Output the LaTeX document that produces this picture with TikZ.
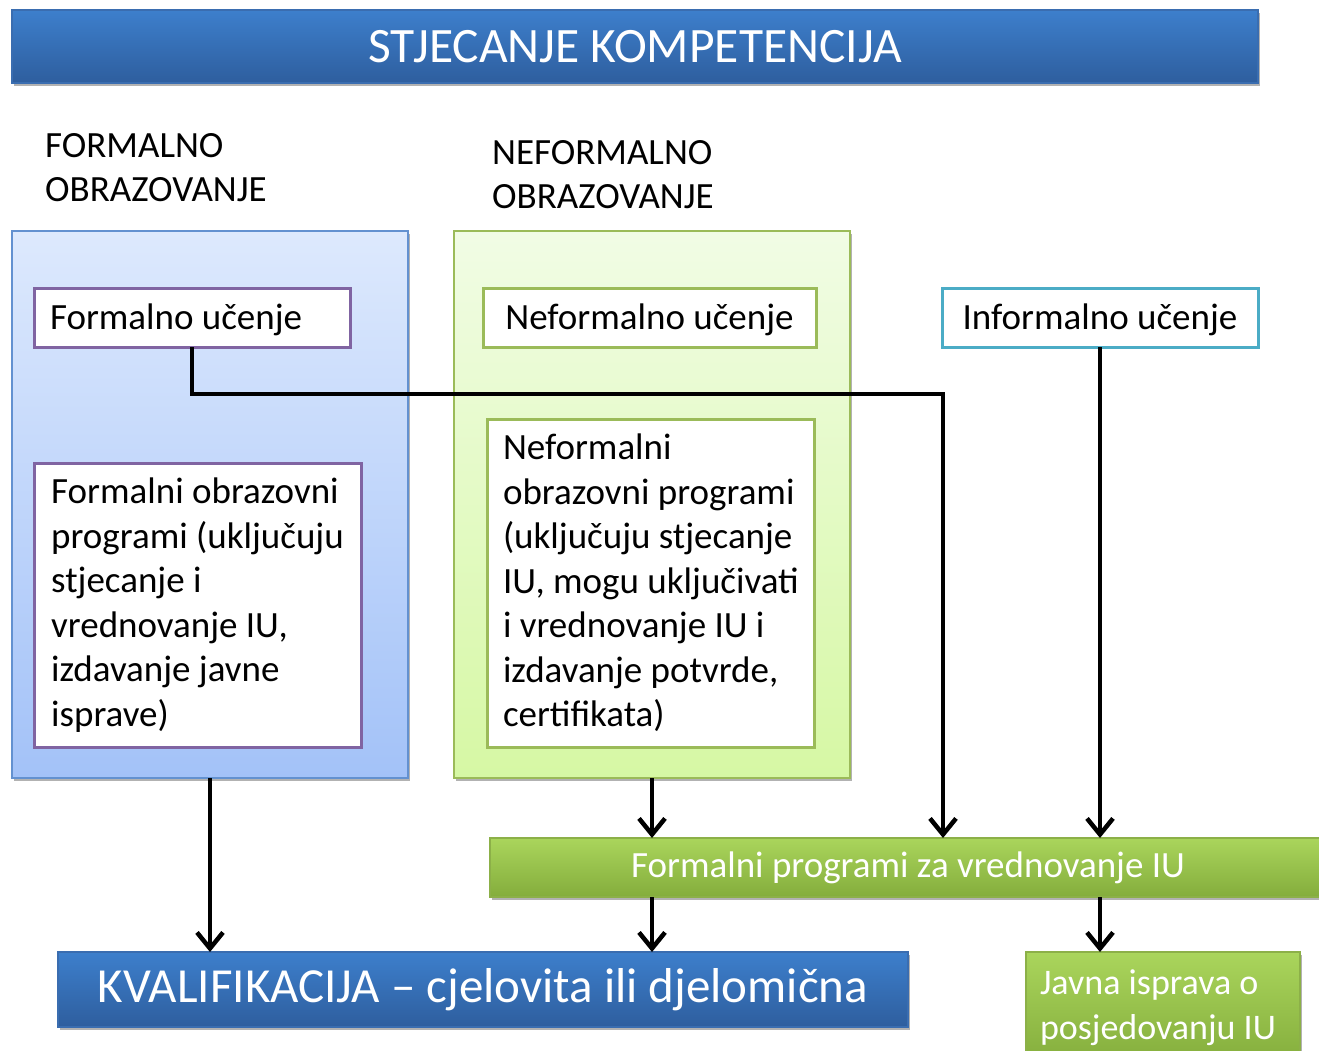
\documentclass[tikz,border=0pt]{standalone}
\usepackage{fontspec}
\setmainfont{Carlito}
\usetikzlibrary{arrows.meta,shadows,calc}
\definecolor{barTop}{HTML}{3D7FCC}
\definecolor{barBot}{HTML}{2E5E9E}
\definecolor{barLine}{HTML}{3A6DB0}
\definecolor{bpTop}{HTML}{DDE9FD}
\definecolor{bpBot}{HTML}{A3C2F8}
\definecolor{bpLine}{HTML}{6391D0}
\definecolor{gpTop}{HTML}{F1FCE5}
\definecolor{gpBot}{HTML}{D6F8A4}
\definecolor{gpLine}{HTML}{9BBB59}
\definecolor{gbTop}{HTML}{AAD55C}
\definecolor{gbBot}{HTML}{84AD3C}
\definecolor{gbLine}{HTML}{8CB048}
\definecolor{purp}{HTML}{8064A2}
\definecolor{aqua}{HTML}{4BACC6}
\newcommand\bodyfs{\fontsize{37}{44.5}\selectfont}
\tikzset{
  shad/.style={drop shadow={shadow xshift=2pt,shadow yshift=-3pt,opacity=0.3,fill=black}},
  bluebar/.style={shad,draw=barLine,line width=1.5pt,top color=barTop,bottom color=barBot,
    text=white,anchor=north west,inner sep=0pt,outer sep=0pt},
  greenbar/.style={shad,draw=gbLine,line width=1.5pt,top color=gbTop,bottom color=gbBot,
    text=white,anchor=north west,inner sep=0pt,outer sep=0pt},
  bluepanel/.style={shad,draw=bpLine,line width=1.5pt,top color=bpTop,bottom color=bpBot,
    anchor=north west,inner sep=0pt,outer sep=0pt,minimum width=396pt,minimum height=547pt},
  greenpanel/.style={shad,draw=gpLine,line width=1.5pt,top color=gpTop,bottom color=gpBot,
    anchor=north west,inner sep=0pt,outer sep=0pt,minimum width=396pt,minimum height=547pt},
  lbox/.style={draw=#1,line width=3pt,fill=white,anchor=north west,outer sep=0pt,
    font=\bodyfs,inner ysep=0pt},
  hdr/.style={anchor=north west,align=left,font=\bodyfs,inner sep=0pt},
  conn/.style={line width=4.5pt,black},
  arr/.style={conn,-{Straight Barb[length=16pt,width=26pt]}}
}
\begin{document}
\begin{tikzpicture}[x=1pt,y=-1pt]
\useasboundingbox (0,0) rectangle (1319,1051);

% title
\node[bluebar,minimum width=1246pt,minimum height=73pt,font=\fontsize{49.5}{58}\selectfont] (title) at (12,10) {STJECANJE KOMPETENCIJA};

% headers
\node[hdr] (hf) at (45,133) {FORMALNO\\OBRAZOVANJE};
\node[hdr] (hn) at (492,140) {NEFORMALNO\\OBRAZOVANJE};

% panels
\node[bluepanel] (fpanel) at (12,231) {};
\node[greenpanel] (npanel) at (454,231) {};

% learning boxes
\node[lbox=purp,minimum height=59pt,text width=284pt,inner xsep=16pt,align=flush left,text depth=1pt] (fu) at (34,288) {Formalno učenje};
\node[lbox=gpLine,minimum height=59pt,minimum width=333pt,align=center,text depth=1pt] (nu) at (483,288) {Neformalno učenje};
\node[lbox=aqua,minimum height=59pt,minimum width=316pt,align=center,text depth=1pt] (iu) at (942,288) {Informalno učenje};

% programme boxes
\node[lbox=purp,minimum height=284pt,minimum width=327pt,inner xsep=16pt,align=left] (fp) at (34,463)
 {Formalni obrazovni\\programi (uključuju\\stjecanje i\\vrednovanje IU,\\izdavanje javne\\isprave)};
\node[lbox=gpLine,minimum height=328pt,minimum width=327pt,inner xsep=16pt,align=left] (np) at (487,419)
 {Neformalni\\obrazovni programi\\(uključuju stjecanje\\IU, mogu uključivati\\i vrednovanje IU i\\izdavanje potvrde,\\certifikata)};

% lower bars
\node[greenbar,minimum width=836pt,minimum height=59pt,font=\fontsize{37}{44}\selectfont] (fpv) at (490,838) {Formalni programi za vrednovanje IU};
\node[bluebar,minimum width=850pt,minimum height=75pt,font=\fontsize{49}{58}\selectfont] (kval) at (58,952) {KVALIFIKACIJA -- cjelovita ili djelomična};
\node[greenbar,minimum width=274pt,minimum height=112pt,text width=246pt,inner xsep=14pt,align=flush left,font=\fontsize{36}{45}\selectfont] (jav) at (1026,952) {Javna isprava o\\posjedovanju IU};

% connectors
\coordinate (c1) at (943,394);
\draw[arr] (fu.south) |- (c1) -- (c1 |- fpv.north);
\draw[arr] (iu.south) -- (iu.south |- fpv.north);
\draw[arr] (npanel.south) -- (npanel.south |- fpv.north);
\draw[arr] (fpanel.south) -- (fpanel.south |- kval.north);
\draw[arr] (npanel.south |- fpv.south) -- (npanel.south |- kval.north);
\draw[arr] (iu.south |- fpv.south) -- (iu.south |- jav.north);
\end{tikzpicture}
\end{document}
